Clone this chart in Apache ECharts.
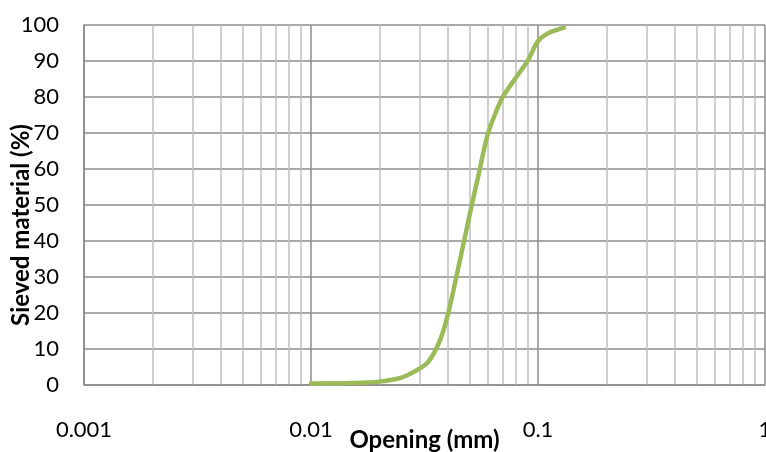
<!DOCTYPE html>
<html>
<head>
<meta charset="utf-8">
<script src="https://cdn.jsdelivr.net/npm/echarts@6/dist/echarts.min.js"></script>
<style>
html,body{margin:0;padding:0;background:#fff;}
#c{width:766px;height:452px;}
</style>
</head>
<body>
<div id="c"></div>
<script>
// Data
const openingMm = [0.01, 0.015, 0.02, 0.025, 0.03, 0.0325, 0.035, 0.0375, 0.04, 0.045, 0.05, 0.055, 0.06, 0.065, 0.07, 0.08, 0.09, 0.1, 0.11, 0.125, 0.13];
const sievedPct = [0.3, 0.4, 0.8, 1.9, 4.4, 6.0, 9.0, 13.3, 19.2, 33.7, 47.2, 59, 69.5, 75.5, 80, 85.4, 90, 95.5, 97.6, 98.9, 99.2];
const xTickValues = [0.001, 0.01, 0.1, 1];
const minorGridValues = [];
[0.001, 0.01, 0.1].forEach(function (d) { for (let k = 2; k <= 9; k++) minorGridValues.push(+(d * k).toPrecision(3)); });

const FONT = 'Lato, "Open Sans", sans-serif';
const chart = echarts.init(document.getElementById('c'), null, {renderer: 'canvas'});
chart.setOption({
  animation: false,
  backgroundColor: '#fff',
  grid: {left: 84, right: 1, top: 25, bottom: 67.5, containLabel: false, outerBoundsMode: 'none'},
  xAxis: {
    type: 'log', logBase: 10, min: 0.001, max: 1,
    axisLine: {show: true, lineStyle: {color: '#8c8c8c', width: 1.5}},
    axisTick: {show: false},
    axisLabel: {fontFamily: FONT, fontSize: 22, color: '#000', margin: 34,
      formatter: function (v) { return String(+v.toPrecision(3)); }},
    splitLine: {show: true, lineStyle: {color: '#8c8c8c', width: 1.5}},
    minorTick: {show: false}, minorSplitLine: {show: false}
  },
  yAxis: {
    type: 'value', min: 0, max: 100, interval: 10,
    axisLine: {show: true, lineStyle: {color: '#8c8c8c', width: 1.5}},
    axisTick: {show: false},
    axisLabel: {fontFamily: FONT, fontSize: 22, color: '#000', margin: 25},
    splitLine: {show: true, lineStyle: {color: '#8c8c8c', width: 1.5}}
  },
  graphic: [{
    type: 'text', x: 21, y: 225, rotation: Math.PI / 2,
    style: {text: 'Sieved material (%)', fontFamily: FONT, fontWeight: 'bold', fontSize: 24,
      fill: '#000', align: 'center', verticalAlign: 'middle'}
  }, {
    type: 'text', x: 424.5, y: 440,
    style: {text: 'Opening (mm)', fontFamily: FONT, fontWeight: 'bold', fontSize: 24,
      fill: '#000', align: 'center', verticalAlign: 'middle'}
  }],
  series: [{
    type: 'line', data: [], z: 1, silent: true,
    markLine: {silent: true, symbol: 'none', label: {show: false}, animation: false,
      lineStyle: {color: '#bfbfbf', width: 1.5, type: 'solid'},
      data: minorGridValues.map(function (v) { return [{coord: [v, 0]}, {coord: [v, 100]}]; })}
  }, {
    type: 'line', z: 5,
    data: openingMm.map(function (x, i) { return [x, sievedPct[i]]; }),
    smooth: 0.35, showSymbol: false, symbol: 'none',
    lineStyle: {color: '#9BBB59', width: 4.5, cap: 'round'}
  }]
});
</script>
</body>
</html>
